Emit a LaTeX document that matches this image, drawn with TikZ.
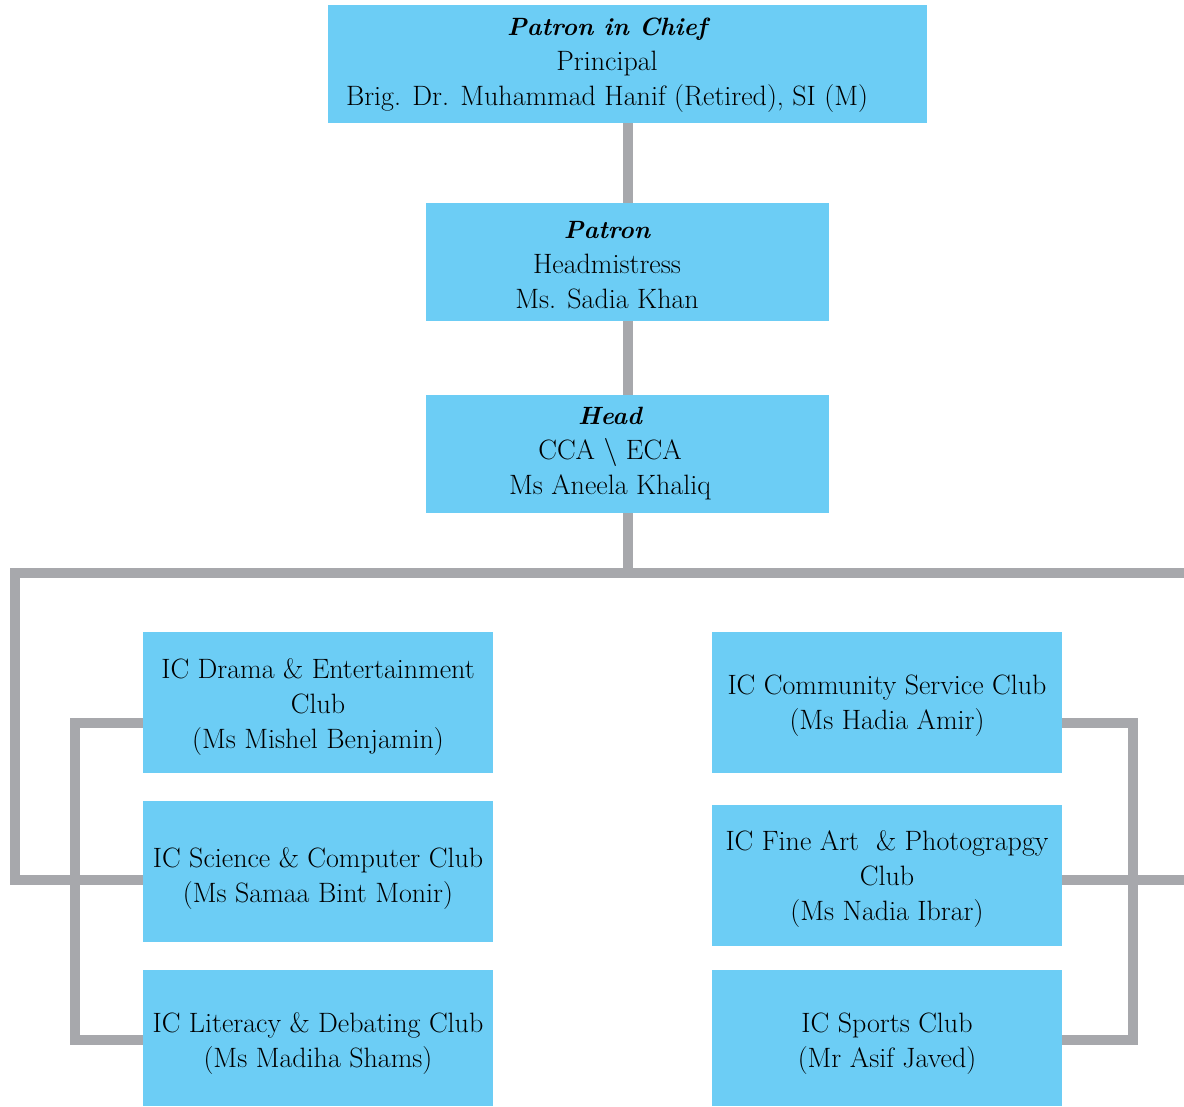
\documentclass[tikz,border=0pt]{standalone}
\usepackage{fontspec}
\definecolor{boxblue}{HTML}{6CCDF5}
\definecolor{linegray}{HTML}{A7A8AC}
\newcommand{\hd}[1]{{\fontsize{25}{35}\selectfont\bfseries\itshape #1}}
\begin{document}
\begin{tikzpicture}[x=1pt,y=-1pt,
  box/.style={draw=none,fill=boxblue,inner sep=0pt,minimum width=#1},
  txt/.style={align=center,inner sep=0pt,font=\fontsize{28}{35}\selectfont,text=black},
  conn/.style={draw=linegray,line width=10pt,line join=miter}]
\useasboundingbox[fill=white] (0,0) rectangle (1184,1107);
% boxes
\node[box=599pt,minimum height=118pt] (top) at (627.5,64) {};
\node[box=403pt,minimum height=118pt] (patron) at (627.5,262) {};
\node[box=403pt,minimum height=118pt] (head) at (627.5,454) {};
\node[box=350pt,minimum height=141pt] (drama) at (318,702.5) {};
\node[box=350pt,minimum height=141pt] (science) at (318,871.5) {};
\node[box=350pt,minimum height=136pt] (literacy) at (318,1038) {};
\node[box=350pt,minimum height=141pt] (community) at (887,702.5) {};
\node[box=350pt,minimum height=141pt] (fineart) at (887,875.5) {};
\node[box=350pt,minimum height=136pt] (sports) at (887,1038) {};
% texts
\node[txt] (ttop) at (607,65) {\hd{Patron in Chief}\\Principal\\Brig. Dr. Muhammad Hanif (Retired), SI (M)};
\node[txt] (tpatron) at (607,265) {\hd{Patron}\\Headmistress\\Ms. Sadia Khan};
\node[txt] (thead) at (610,454) {\hd{Head}\\CCA \textbackslash{} ECA\\Ms Aneela Khaliq};
\node[txt] (tdrama) at (318,707) {IC Drama \& Entertainment\\Club\\(Ms Mishel Benjamin)};
\node[txt] (tscience) at (318,879) {IC Science \& Computer Club\\(Ms Samaa Bint Monir)};
\node[txt] (tliteracy) at (318,1044) {IC Literacy \& Debating Club\\(Ms Madiha Shams)};
\node[txt] (tcommunity) at (887,706) {IC Community Service Club\\(Ms Hadia Amir)};
\node[txt] (tfineart) at (887,879) {IC Fine Art \ \& Photograpgy\\Club\\(Ms Nadia Ibrar)};
\node[txt] (tsports) at (887,1044) {IC Sports Club\\(Mr Asif Javed)};
% connector points
\coordinate (hl) at (15,573);
\coordinate (hr) at (1184,573);
\coordinate (rr) at (1184,880);
\coordinate (li) at (75,723);
\coordinate (ri) at (1133,723);
% connectors
\draw[conn] (top.south) -- (patron.north);
\draw[conn] (patron.south) -- (head.north);
\draw[conn] (head.south) -- (head.south |- hl);
\draw[conn] (hr) -- (hl) |- ([yshift=-8.5pt]science.west);
\draw[conn] ([yshift=-20.5pt]drama.west) -| (li) |- ([yshift=-2pt]literacy.west);
\draw[conn] ([yshift=-20.5pt]community.east) -| (ri) |- ([yshift=-2pt]sports.east);
\draw[conn] ([yshift=-4.5pt]fineart.east) -- (rr);
\end{tikzpicture}
\end{document}
